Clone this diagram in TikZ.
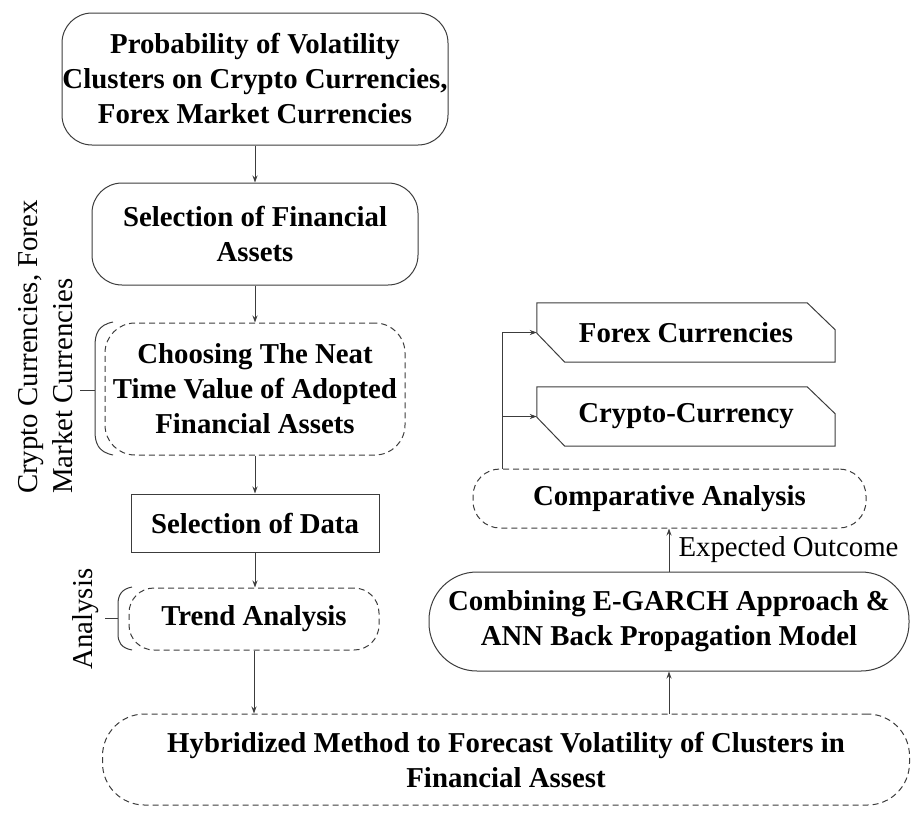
\documentclass[tikz,border=0pt]{standalone}
\usepackage{fontspec}
\setmainfont{Liberation Serif}
\usetikzlibrary{arrows.meta}
\definecolor{lc}{HTML}{3C3C3C}
\begin{document}
\begin{tikzpicture}[x=1pt,y=-1pt,
  every node/.style={font=\fontsize{28.8}{35}\selectfont, inner sep=0pt, align=center, text=black},
  bx/.style={draw=lc, line width=1pt, font=\bfseries\fontsize{28.8}{35}\selectfont},
  dsh/.style={bx, dash pattern=on 6pt off 4pt},
  plain/.style={font=\bfseries\fontsize{28.8}{35}\selectfont},
  wire/.style={draw=lc, line width=1pt},
  arr/.style={draw=lc, line width=1pt, -{Stealth[length=7pt,width=5pt]}}]
\useasboundingbox (0,0) rectangle (913,812);

% left column
\node[bx, rounded corners=30pt, minimum width=386pt, minimum height=132pt] (top) at (255,79)
  {Probability of Volatility\\Clusters on Crypto Currencies,\\Forex Market Currencies};
\node[bx, rounded corners=30pt, minimum width=326pt, minimum height=102pt] (sel) at (255,234)
  {Selection of Financial\\Assets};
\node[dsh, rounded corners=30pt, minimum width=300pt, minimum height=132pt] (choose) at (255,389)
  {Choosing The Neat\\Time Value of Adopted\\Financial Assets};
\node[bx, minimum width=248pt, minimum height=58pt] (data) at (255,523) {Selection of Data};
\node[dsh, rounded corners=25pt, minimum width=250pt, minimum height=62pt] (trend) at (254,619) {Trend Analysis};

% bottom
\node[dsh, rounded corners=42pt, minimum width=807pt, minimum height=91pt] (hyb) at (506,759.5)
  {Hybridized Method to Forecast Volatility of Clusters in\\Financial Assest};

% right column
\node[bx, rounded corners=48pt, minimum width=480pt, minimum height=99pt] (comb) at (669,621.5)
  {Combining E-GARCH Approach \&\\ANN Back Propagation Model};
\node[dsh, rounded corners=27pt, minimum width=393pt, minimum height=59pt] (comp) at (669.5,498.5)
  {Comparative Analysis};
\node[plain, minimum width=298pt, minimum height=59pt] (forex) at (686,332.5) {Forex Currencies};
\node[plain, minimum width=298pt, minimum height=59pt] (crypto) at (686,416.5) {Crypto-Currency};

\foreach \n in {forex,crypto}{
  \draw[wire] (\n.north west) -- ([xshift=-28pt]\n.north east) -- ([yshift=-27pt]\n.north east)
    -- (\n.south east) -- ([xshift=28pt]\n.south west) -- ([yshift=29pt]\n.south west) -- cycle;
}

% connectors
\draw[arr] (top.south) -- (sel.north);
\draw[arr] (sel.south) -- (choose.north);
\draw[arr] (choose.south) -- (data.north);
\draw[arr] (data.south) -- (data.south |- trend.north);
\draw[arr] (trend.south) -- (trend.south |- hyb.north);
\coordinate (rx) at (669,0);
\draw[arr] (hyb.north -| rx) -- (comb.south -| rx);
\draw[arr] (comb.north -| rx) -- node[right=9pt] (eo) {Expected Outcome} (comp.south -| rx);
\coordinate (bus) at (502,0);
\draw[wire] (comp.north -| bus) -- (forex.west -| bus);
\draw[arr] (forex.west -| bus) -- (forex.west);
\draw[arr] (crypto.west -| bus) -- (crypto.west);

% brackets and side labels
\draw[wire] (113,322) .. controls (98,325) and (95,334) .. (95,346) -- (95,431)
  .. controls (95,443) and (98,452) .. (113,455);
\draw[wire] (80,390) -- (95,390);
\draw[wire] (132,587) .. controls (121,589) and (118,596) .. (118,604) -- (118,634)
  .. controls (118,642) and (121,648) .. (132,650);
\draw[wire] (105,618) -- (118,618);
\node[rotate=90, anchor=north west, align=left] (lab1) at (18,494) {Crypto Currencies, Forex\\Market Currencies};
\node[rotate=90, anchor=north] (lab2) at (72,619) {Analysis};
\end{tikzpicture}
\end{document}
